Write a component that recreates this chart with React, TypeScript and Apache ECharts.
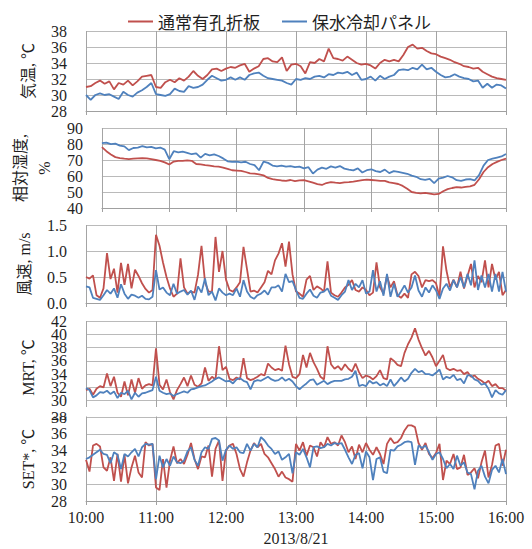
import React, { useEffect, useRef } from "react";
import * as echarts from "echarts";

// time step (minutes from 10:00) of each data set
const STEP_SLOW = 4;
const STEP_FAST = 3;

const seriesNames = ["通常有孔折板", "保水冷却パネル"];
const xTickMinutes = [0, 60, 120, 180, 240, 300, 360];
const dateLabel = "2013/8/21";

const tempTicks = [28, 30, 32, 34, 36, 38];
const rhTicks = [40, 50, 60, 70, 80, 90];
const windTicks = [0, 0.5, 1.0, 1.5];
const mrtTicks = [28, 30, 32, 34, 36, 38, 40, 42];
const setTicks = [28, 30, 32, 34, 36, 38];

// 気温 (4-min)
const tempRed = [
  31.0, 31.1, 31.5, 31.8, 31.4, 31.7, 30.7, 31.5, 31.3, 31.8,
  31.2, 31.7, 32.3, 32.4, 32.5, 31.0, 30.9, 31.6, 31.9, 31.6,
  32.1, 31.8, 32.3, 33.0, 32.4, 32.0, 32.5, 33.2, 33.3, 33.0,
  33.3, 33.5, 33.4, 33.7, 33.9, 32.9, 33.3, 33.6, 34.5, 34.6,
  34.2, 34.1, 34.7, 33.0, 33.8, 33.9, 33.6, 32.7, 34.1, 34.0,
  34.5, 34.2, 35.8, 34.6, 34.5, 34.3, 34.8, 34.4, 34.0, 33.8,
  33.9, 33.7, 33.3, 34.0, 34.4, 34.2, 34.4, 34.2, 35.0, 36.0,
  36.3, 35.8, 35.9, 35.5, 35.2, 35.1, 34.8, 34.6, 34.4, 34.1,
  33.9, 33.6, 33.5, 33.3, 33.4, 32.9, 32.6, 32.3, 32.1, 32.0,
  31.9,
];
const tempBlue = [
  30.0, 29.4, 30.0, 30.2, 30.0, 30.1, 29.8, 29.5, 30.4, 30.0,
  29.8, 30.3, 30.6, 31.0, 31.5, 30.1, 30.0, 29.9, 30.1, 30.8,
  30.5, 30.4, 31.1, 30.9, 31.0, 31.3, 31.9, 32.4, 32.1, 31.8,
  31.9, 32.2, 31.9, 32.2, 31.9, 32.5, 32.7, 32.8, 32.4, 32.1,
  32.0, 31.9, 31.8, 31.5, 31.3, 32.0, 31.9, 32.1, 32.0, 32.3,
  32.4, 32.2, 32.6, 32.5, 32.8, 32.7, 32.9, 32.5, 32.8, 31.9,
  32.0, 32.3, 31.8, 32.4, 32.0, 32.3, 32.5, 33.1, 33.2, 33.1,
  33.4, 33.2, 33.8, 33.2, 33.4, 32.9, 32.5, 32.2, 32.3, 32.6,
  32.3, 32.1, 32.0, 31.7, 31.8, 30.9, 31.4, 30.9, 31.3, 31.2,
  30.8,
];

// 相対湿度 (4-min)
const rhRed = [
  78.0, 75.5, 73.5, 71.8, 71.2, 70.8, 70.6, 70.8, 71.0, 71.2,
  71.0, 70.5, 70.0, 69.5, 68.5, 67.2, 69.0, 69.5, 69.5, 69.8,
  69.5, 67.5, 67.2, 66.8, 66.5, 66.0, 65.8, 65.3, 64.5, 63.6,
  63.4, 63.2, 62.5, 61.6, 61.5, 61.0, 60.4, 58.8, 58.0, 57.6,
  57.2, 57.0, 57.5, 56.8, 57.3, 57.4, 56.6, 55.8, 54.9, 54.4,
  55.6, 56.2, 55.8, 55.5, 56.0, 56.2, 56.5, 57.0, 57.4, 57.8,
  57.5, 57.2, 56.9, 57.0, 56.0, 55.6, 55.0, 53.8, 52.0, 50.0,
  49.5, 49.2, 49.5, 49.0, 48.5, 48.8, 50.5, 51.8, 52.5, 53.0,
  52.8, 53.2, 53.5, 54.5, 58.0, 62.5, 65.5, 67.5, 68.8, 70.0,
  70.8,
];
const rhBlue = [
  80.5, 80.8, 79.9, 80.2, 79.0, 78.5, 76.2, 77.5, 77.8, 78.6,
  77.9, 78.2, 77.3, 77.8, 76.5, 70.5, 75.5, 74.8, 75.2, 74.5,
  73.6, 74.2, 71.5, 73.8, 72.9, 73.5, 72.5, 71.0, 69.2, 68.8,
  69.0, 68.5, 68.9, 67.5, 66.8, 63.6, 69.0, 68.2, 66.5, 66.0,
  66.5, 65.8, 66.2, 65.5, 65.9, 64.8, 65.5, 61.5, 64.0, 65.2,
  64.5, 66.0, 65.3, 66.2, 64.6, 64.0, 63.5, 64.8, 62.2, 63.6,
  64.2, 63.0, 62.5, 64.0, 61.8, 63.0, 62.6, 62.0, 61.4, 60.2,
  59.5, 58.0, 57.6, 58.2, 55.5, 58.3, 59.0, 60.0, 59.2, 57.4,
  57.0, 57.8, 58.0, 57.2, 60.5, 66.5, 70.0, 70.8, 71.5, 72.2,
  73.8,
];

// 風速 (3-min)
const windRed = [
  0.50, 0.47, 0.53, 0.15, 0.10, 0.28, 0.96, 0.46, 0.66, 0.20,
  0.77, 0.35, 0.75, 0.28, 0.64, 0.52, 0.38, 0.27, 0.20, 0.25,
  1.31, 1.10, 0.78, 0.50, 0.28, 0.12, 0.18, 0.86, 0.30, 0.18,
  0.22, 0.20, 0.54, 1.10, 0.40, 0.22, 0.22, 1.27, 0.60, 1.00,
  0.45, 0.25, 0.22, 0.30, 0.40, 1.08, 0.65, 0.22, 0.24, 0.20,
  0.30, 0.40, 0.62, 0.55, 0.82, 0.95, 1.15, 0.70, 1.18, 0.55,
  0.22, 0.18, 0.12, 0.45, 0.52, 0.25, 0.32, 0.28, 0.22, 0.80,
  0.20, 0.15, 0.12, 0.20, 0.30, 0.35, 0.44, 0.25, 0.22, 0.30,
  0.25, 0.15, 0.20, 0.78, 0.30, 0.18, 0.52, 0.30, 0.42, 0.15,
  0.10, 0.18, 0.10, 0.55, 0.60, 0.52, 0.30, 0.44, 0.42, 0.44,
  0.38, 0.12, 1.09, 0.62, 0.30, 0.45, 0.30, 0.60, 0.28, 0.52,
  0.75, 0.30, 0.52, 0.40, 0.82, 0.30, 0.75, 0.45, 0.60, 0.15,
  0.25,
];
const windBlue = [
  0.32, 0.30, 0.10, 0.08, 0.06, 0.15, 0.25, 0.18, 0.28, 0.10,
  0.36, 0.18, 0.08, 0.16, 0.14, 0.10, 0.14, 0.08, 0.07, 0.12,
  0.63, 0.26, 0.30, 0.20, 0.15, 0.37, 0.18, 0.22, 0.25, 0.16,
  0.24, 0.06, 0.32, 0.20, 0.47, 0.15, 0.22, 0.05, 0.28, 0.20,
  0.15, 0.18, 0.15, 0.28, 0.12, 0.44, 0.22, 0.12, 0.08, 0.15,
  0.18, 0.24, 0.16, 0.30, 0.30, 0.34, 0.22, 0.56, 0.40, 0.42,
  0.25, 0.10, 0.08, 0.18, 0.26, 0.14, 0.10, 0.20, 0.22, 0.28,
  0.14, 0.10, 0.06, 0.15, 0.22, 0.44, 0.25, 0.37, 0.30, 0.44,
  0.18, 0.22, 0.63, 0.22, 0.42, 0.14, 0.56, 0.12, 0.37, 0.12,
  0.22, 0.34, 0.20, 0.30, 0.53, 0.24, 0.12, 0.30, 0.20, 0.34,
  0.24, 0.08, 0.28, 0.37, 0.24, 0.44, 0.30, 0.50, 0.30, 0.56,
  0.34, 0.82, 0.25, 0.53, 0.30, 0.56, 0.22, 0.56, 0.22, 0.60,
  0.22,
];

// MRT (3-min)
const mrtRed = [
  31.6, 31.8, 30.9, 31.8, 32.2, 32.0, 34.1, 32.2, 33.6, 31.2,
  30.6, 32.9, 30.8, 33.2, 31.2, 33.4, 31.8, 32.3, 32.5, 32.3,
  37.9, 32.4, 31.7, 33.2, 31.3, 30.2, 31.6, 32.5, 33.5, 32.2,
  33.8, 32.4, 32.1, 32.6, 35.0, 33.0, 33.6, 33.2, 38.2, 34.6,
  35.1, 33.3, 33.1, 33.5, 33.2, 36.4, 33.4, 33.1, 33.3, 33.6,
  34.0, 33.8, 35.6, 35.0, 34.6, 34.8, 34.5, 38.3, 35.5, 33.6,
  33.4, 34.0, 36.9, 35.0, 37.2, 35.8, 34.8, 33.6, 33.2, 38.2,
  35.5, 34.8, 35.2, 34.6, 35.5, 34.8, 34.4, 35.6, 34.3, 33.4,
  33.8, 33.6, 33.2, 33.7, 34.6, 33.4, 33.2, 36.4, 36.0, 35.4,
  35.2, 37.2, 38.5, 39.5, 40.9, 39.2, 37.9, 36.8, 37.5, 36.5,
  35.2, 36.0, 36.9, 34.9, 34.6, 34.8, 34.5, 34.6, 34.0, 34.3,
  33.6, 33.8, 33.3, 33.0, 32.6, 33.0, 32.2, 32.5, 31.9, 31.9,
  31.5,
];
const mrtBlue = [
  31.9, 31.6, 30.5, 30.8, 31.3, 31.2, 31.5, 31.0, 31.4, 30.4,
  31.2, 31.0, 31.5, 30.2, 31.2, 30.6, 31.1, 31.2, 31.4, 31.6,
  33.6, 31.5, 31.2, 31.0, 31.1, 30.7, 31.0, 31.2, 31.4, 31.2,
  31.7, 31.8, 32.0, 32.2, 32.3, 32.6, 32.9, 33.3, 33.5, 33.2,
  32.9, 33.0, 32.6, 33.2, 33.4, 33.0, 32.8, 31.7, 32.9, 33.1,
  33.0, 33.3, 33.6, 33.2, 33.0, 33.1, 33.5, 33.0, 33.3, 32.9,
  32.2, 31.7, 32.2, 32.6, 33.1, 33.2, 32.4, 32.7, 33.0, 32.5,
  32.8, 33.0, 33.0, 33.0, 33.2, 33.3, 33.6, 34.5, 32.2, 32.4,
  32.2, 33.0, 32.6, 32.8, 32.3, 32.6, 32.2, 33.2, 32.2, 32.8,
  33.5, 32.9, 33.3, 34.2, 34.8, 34.3, 34.5, 34.0, 34.0, 33.8,
  34.2, 34.7, 33.2, 33.6, 33.4, 33.9, 33.1, 33.3, 32.6, 33.8,
  33.8, 33.2, 33.0, 32.4, 32.6, 31.8, 30.5, 31.6, 31.1, 30.9,
  31.6,
];

// SET* (3-min)
const setRed = [
  32.9, 31.5, 34.6, 34.8, 34.5, 32.0, 31.6, 33.2, 30.4, 33.6,
  30.3, 33.5, 30.1, 32.0, 33.4, 31.4, 30.8, 35.0, 34.6, 34.8,
  29.6, 29.3, 33.0, 29.6, 32.8, 34.5, 32.5, 33.0, 32.4, 33.5,
  34.9, 33.0, 31.8, 33.3, 33.2, 34.6, 30.9, 34.2, 35.2, 30.4,
  34.0, 34.6, 34.8, 33.6, 31.8, 30.9, 32.6, 34.0, 34.9, 34.4,
  34.8, 33.6, 33.2, 32.5, 31.8, 30.9, 31.5, 30.8, 30.6, 30.3,
  34.8, 34.0, 35.0, 33.4, 34.6, 34.4, 33.3, 35.0, 34.4, 35.6,
  34.8, 35.0, 34.6, 35.8, 35.0, 33.8, 34.5, 33.0, 34.7, 33.8,
  34.9, 34.1, 33.5, 34.4, 33.6, 32.4, 34.8, 35.5, 34.9, 35.0,
  35.5, 36.4, 37.0, 37.0, 36.8, 34.9, 34.1, 34.9, 33.6, 33.1,
  33.7, 34.8, 30.5, 32.8, 32.4, 33.6, 31.8, 32.0, 33.5, 31.1,
  31.4, 31.9, 30.7, 32.6, 34.0, 30.8, 32.3, 34.6, 34.8, 32.2,
  34.1,
];
const setBlue = [
  33.0, 33.2, 33.5, 33.8, 34.1, 33.6, 33.5, 32.5, 33.8, 33.5,
  31.8, 33.6, 33.3, 33.8, 34.2, 33.3, 34.4, 34.8, 34.7, 34.8,
  30.6, 33.4, 32.0, 33.0, 32.2, 33.3, 32.6, 32.5, 32.8, 33.9,
  34.4, 32.9, 32.2, 33.8, 34.4, 34.2, 35.4, 35.5, 35.2, 32.8,
  34.1, 34.6, 34.2, 34.4, 33.8, 33.7, 34.8, 34.0, 34.8, 34.4,
  35.6, 35.2, 34.6, 34.2, 33.6, 33.9, 32.9, 33.2, 33.6, 31.3,
  33.8, 33.5, 34.2, 33.2, 32.0, 34.4, 34.5, 34.3, 34.4, 34.8,
  34.6, 34.9, 34.8, 34.9, 34.1, 33.2, 32.4, 33.5, 33.7, 31.9,
  33.9, 33.2, 30.5, 33.0, 33.2, 31.5, 31.3, 34.1, 34.0, 34.5,
  34.7, 35.0, 35.1, 35.0, 32.3, 34.6, 34.3, 34.6, 33.8, 32.9,
  33.6, 33.8, 33.0, 31.9, 32.4, 31.8, 33.4, 32.2, 32.6, 31.4,
  31.2, 29.4, 31.6, 32.2, 30.9, 30.1, 31.7, 32.2, 31.4, 33.0,
  31.2,
];

const RED = "#c0504d";
const BLUE = "#4f81bd";
const SERIF = "'Liberation Serif', 'Noto Sans CJK JP', serif";
const TEXT = "#1f1f1f";

const toPairs = (arr: number[], step: number) => arr.map((v, i) => [i * step, v]);

const panels = [
  { top: 31, height: 80, ticks: tempTicks, name: "気温, ℃", gap: 45, red: tempRed, blue: tempBlue, step: STEP_SLOW, dec: 0 },
  { top: 128, height: 80, ticks: rhTicks, name: "相対湿度,\n%", gap: 35, red: rhRed, blue: rhBlue, step: STEP_SLOW, dec: 0 },
  { top: 225, height: 78, ticks: windTicks, name: "風速, m/s", gap: 44, red: windRed, blue: windBlue, step: STEP_FAST, dec: 1 },
  { top: 321, height: 93, ticks: mrtTicks, name: "MRT, ℃", gap: 44, red: mrtRed, blue: mrtBlue, step: STEP_FAST, dec: 0 },
  { top: 417, height: 84, ticks: setTicks, name: "SET*, ℃", gap: 44, red: setRed, blue: setBlue, step: STEP_FAST, dec: 0 },
];

const MRT_INDEX = 3;

export default function App() {
  const ref = useRef<HTMLDivElement>(null);
  useEffect(() => {
    if (!ref.current) return;
    const chart = echarts.init(ref.current, undefined, { renderer: "svg" });
    const last = panels.length - 1;

    const labelStyle = (dec: number) => ({
      fontSize: 16,
      color: TEXT,
      fontFamily: SERIF,
      margin: 19,
      hideOverlap: false,
      formatter: (v: number) => v.toFixed(dec),
    });

    const yAxes: any[] = panels.map((p, i) => {
      const dense = i === MRT_INDEX;
      return {
        type: "value",
        gridIndex: i,
        position: "left",
        offset: 0,
        min: p.ticks[0],
        max: p.ticks[p.ticks.length - 1],
        interval: p.ticks[1] - p.ticks[0],
        z: i === last ? 4 : 0,
        axisLine: { show: false },
        axisTick: { show: false },
        splitLine: { show: true, lineStyle: { color: "#bababa", width: 1 } },
        axisLabel: {
          ...labelStyle(p.dec),
          showMinLabel: true,
          showMaxLabel: true,
          // the MRT scale is dense: its labels are split over two overlaid axes
          ...(dense ? { customValues: p.ticks.filter((_, k) => k % 2 === 0) } : {}),
        },
        name: p.name,
        nameLocation: "middle",
        nameRotate: 90,
        nameGap: p.gap,
        nameTextStyle: { fontSize: 16, color: TEXT, fontFamily: SERIF, lineHeight: 24 },
      };
    });
    const mrt = panels[MRT_INDEX];
    yAxes.push({
      type: "value",
      gridIndex: MRT_INDEX,
      position: "left",
      offset: 0,
      min: mrt.ticks[0],
      max: mrt.ticks[mrt.ticks.length - 1],
      interval: mrt.ticks[1] - mrt.ticks[0],
      z: 0,
      axisLine: { show: false },
      axisTick: { show: false },
      splitLine: { show: false },
      axisLabel: {
        ...labelStyle(mrt.dec),
        showMinLabel: true,
        showMaxLabel: true,
        customValues: mrt.ticks.filter((_, k) => k % 2 === 1),
      },
    });

    const option: any = {
      animation: false,
      backgroundColor: "#ffffff",
      legend: {
        data: seriesNames,
        left: 123,
        top: 8,
        icon: "rect",
        itemWidth: 25,
        itemHeight: 2,
        itemGap: 22,
        textStyle: { fontSize: 17, color: TEXT, fontFamily: "'Noto Sans CJK JP', sans-serif" },
      },
      graphic: [
        { type: "rect", z: 3, shape: { x: 0, y: 407, width: 532, height: 9.5 }, style: { fill: "#ffffff" } },
      ],
      grid: panels.map((p) => ({ left: 86, width: 420, top: p.top, height: p.height, containLabel: false })),
      xAxis: panels.map((p, i) => ({
        type: "value",
        gridIndex: i,
        min: xTickMinutes[0],
        max: xTickMinutes[xTickMinutes.length - 1],
        interval: 60,
        z: i === last ? 4 : 0,
        axisLine: { show: true, lineStyle: { color: "#a0a0a0", width: 1 } },
        axisTick: { show: true, length: 4, lineStyle: { color: "#a0a0a0" } },
        splitLine: { show: true, lineStyle: { color: "#a4a4a4", width: 1 } },
        axisLabel: {
          show: i === last,
          fontSize: 16,
          color: TEXT,
          fontFamily: SERIF,
          margin: 8,
          hideOverlap: false,
          showMinLabel: true,
          showMaxLabel: true,
          formatter: (v: number) => `${10 + Math.round(v / 60)}:00`,
        },
        name: i === last ? dateLabel : "",
        nameLocation: "middle",
        nameGap: 29,
        nameTextStyle: { fontSize: 16, color: TEXT, fontFamily: SERIF },
      })),
      yAxis: yAxes,
      series: panels.flatMap((p, i) => [
        {
          name: seriesNames[0],
          type: "line",
          xAxisIndex: i,
          yAxisIndex: i,
          symbol: "none",
          z: i === last ? 5 : 2,
          data: toPairs(p.red, p.step),
          lineStyle: { color: RED, width: 1.8 },
          itemStyle: { color: RED },
        },
        {
          name: seriesNames[1],
          type: "line",
          xAxisIndex: i,
          yAxisIndex: i,
          symbol: "none",
          z: i === last ? 5 : 2,
          data: toPairs(p.blue, p.step),
          lineStyle: { color: BLUE, width: 1.8 },
          itemStyle: { color: BLUE },
        },
      ]),
    };
    chart.setOption(option);
    return () => chart.dispose();
  }, []);
  return (
    <div
      ref={ref}
      style={{ position: "fixed", left: 0, top: 0, width: 532, height: 549, background: "#fff" }}
    />
  );
}
